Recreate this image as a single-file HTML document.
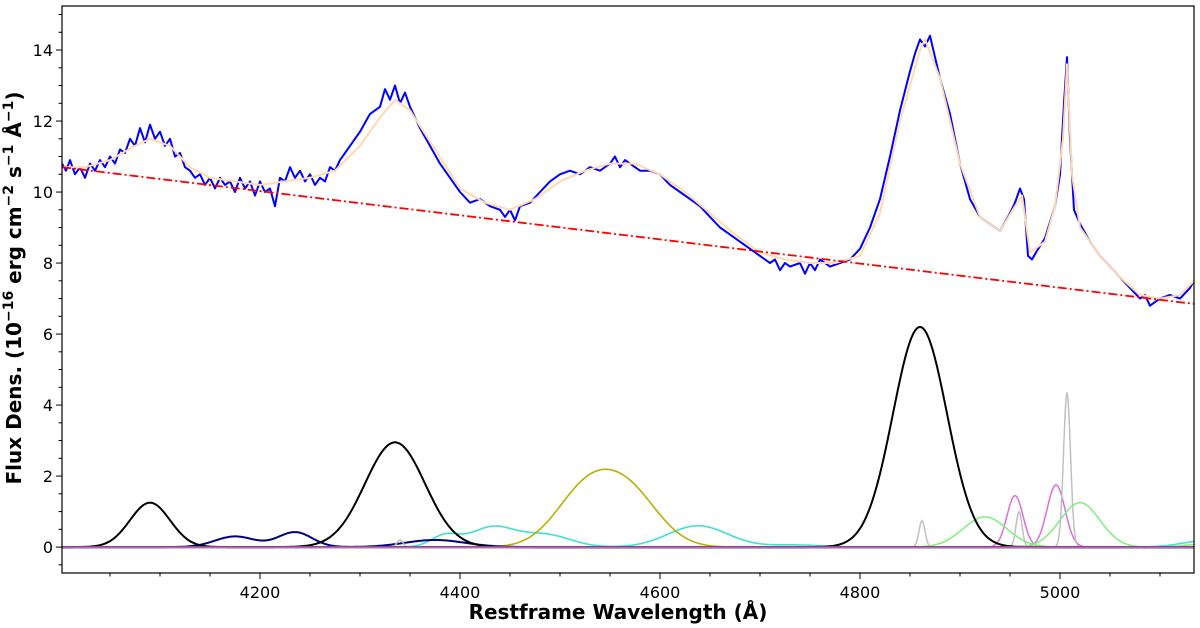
<!DOCTYPE html>
<html><head><meta charset="utf-8"><style>
body{margin:0;background:#fff}
svg{display:block;font-family:"DejaVu Sans","Liberation Sans",sans-serif}
</style></head><body>
<svg id="c" width="1200" height="628">
<rect x="0" y="0" width="1200" height="628" fill="#fff"/>
<g id="plot"></g>
<g id="axes"></g>
<text x="618" y="619" text-anchor="middle" font-size="20" font-weight="bold">Restframe Wavelength (Å)</text>
<text transform="translate(21,288) rotate(-90)" text-anchor="middle" font-size="20" font-weight="bold">Flux Dens. (10<tspan dy="-8" font-size="14">−16</tspan><tspan dy="8"> erg cm</tspan><tspan dy="-8" font-size="14">−2</tspan><tspan dy="8"> s</tspan><tspan dy="-8" font-size="14">−1</tspan><tspan dy="8"> Å</tspan><tspan dy="-8" font-size="14">−1</tspan><tspan dy="8">)</tspan></text>
</svg>
<script>
const xTicks=[4200,4400,4600,4800,5000];
const yTicks=[0,2,4,6,8,10,12,14];
const obsWave=[4002,4006,4010,4015,4020,4025,4030,4035,4040,4045,4050,4055,4060,4065,4070,4075,4080,4085,4090,4095,4100,4105,4110,4115,4120,4125,4130,4135,4140,4145,4150,4155,4160,4165,4170,4175,4180,4185,4190,4195,4200,4205,4210,4215,4220,4225,4230,4235,4240,4245,4250,4255,4260,4265,4270,4275,4280,4290,4300,4310,4320,4325,4330,4335,4340,4345,4350,4360,4370,4380,4390,4400,4410,4420,4430,4440,4445,4450,4455,4460,4470,4480,4490,4500,4510,4520,4530,4540,4550,4555,4560,4565,4570,4580,4590,4600,4610,4620,4630,4640,4650,4660,4670,4680,4690,4700,4705,4710,4715,4720,4725,4730,4740,4745,4750,4755,4760,4770,4780,4790,4800,4810,4820,4830,4840,4850,4855,4860,4865,4870,4880,4890,4900,4910,4920,4930,4940,4950,4955,4960,4964,4968,4972,4976,4985,4995,5000,5004,5007,5010,5014,5020,5030,5040,5050,5060,5070,5080,5085,5090,5095,5100,5110,5120,5130,5134];
const obsFlux=[10.8,10.6,10.9,10.5,10.7,10.4,10.8,10.6,10.9,10.7,11.0,10.8,11.2,11.1,11.5,11.3,11.8,11.4,11.9,11.5,11.7,11.3,11.5,11.0,11.1,10.7,10.6,10.4,10.5,10.2,10.4,10.1,10.4,10.2,10.3,10.0,10.4,10.1,10.3,9.9,10.3,10.0,10.1,9.6,10.4,10.3,10.7,10.4,10.6,10.3,10.5,10.2,10.4,10.3,10.7,10.6,10.9,11.3,11.7,12.2,12.4,12.9,12.6,13.0,12.5,12.8,12.4,11.8,11.3,10.8,10.4,10.0,9.7,9.8,9.6,9.5,9.3,9.5,9.2,9.6,9.7,10.0,10.3,10.5,10.6,10.5,10.7,10.6,10.8,11.0,10.7,10.9,10.8,10.6,10.6,10.5,10.2,10.0,9.8,9.6,9.3,9.0,8.8,8.6,8.4,8.2,8.1,8.0,8.1,7.8,8.0,7.9,8.0,7.7,8.0,7.8,8.1,7.9,8.0,8.1,8.4,9.0,9.8,11.0,12.3,13.4,13.9,14.3,14.1,14.4,13.2,12.2,10.8,9.8,9.3,9.1,8.9,9.4,9.7,10.1,9.8,8.2,8.1,8.3,8.7,9.6,10.5,12.5,13.8,11.5,9.5,9.1,8.6,8.2,7.9,7.6,7.3,7.0,7.1,6.8,6.9,7.0,7.1,7.0,7.3,7.5,7.6];
const modWave=[4002,4025,4050,4075,4090,4110,4130,4150,4175,4200,4225,4250,4275,4300,4320,4335,4350,4375,4400,4425,4450,4475,4500,4525,4550,4575,4600,4625,4650,4675,4700,4725,4750,4775,4800,4820,4840,4860,4865,4880,4900,4920,4940,4955,4962,4970,4985,4995,5003,5007,5012,5020,5040,5060,5080,5100,5120,5134];
const modFlux=[10.7,10.7,10.9,11.3,11.5,11.3,10.7,10.4,10.3,10.2,10.3,10.4,10.6,11.3,12.1,12.6,12.3,11.2,10.1,9.7,9.5,9.8,10.3,10.6,10.8,10.8,10.5,10.0,9.4,8.8,8.3,8.1,8.0,8.0,8.2,9.4,12.0,14.0,14.3,13.2,10.8,9.3,8.9,9.6,9.9,8.3,8.6,9.6,11.5,13.6,10.5,9.0,8.2,7.6,7.1,7.0,7.1,7.5];
const contWave=[4002,5134];
const contFlux=[10.7,6.85];
// gaussian components: center (Å), amplitude, sigma (Å)
const compCenter=[4090,4335,4860, 4175,4235,4375, 4385,4432,4485,4638,4735,5150, 4525,4570, 4340,4862,4959,5007, 4955,4996, 4925,5020,5150];
const compAmp=   [1.25,2.95,6.2,  0.3,0.42,0.2,   0.32,0.55,0.35,0.6,0.06,0.2,  1.5,1.4,  0.2,0.75,1.0,4.35,  1.45,1.75,  0.85,1.25,0.1];
const compSigma= [20,30,27,       20,17,30,       14,22,25,30,25,25,          30,30,    3,3,3,3.5,        8,9,        22,20,20];
const compColor=['#000','#000','#000','#000080','#000080','#000080','#40e0d0','#40e0d0','#40e0d0','#40e0d0','#40e0d0','#40e0d0','#b8b000','#b8b000','#c0c0c0','#c0c0c0','#c0c0c0','#c0c0c0','#da70d6','#da70d6','#7cf07c','#7cf07c','#7cf07c'];
const compName=['black','black','black','navy','navy','navy','cyan','cyan','cyan','cyan','cyan','cyan','olive','olive','gray','gray','gray','gray','pink','pink','green','green','green'];

const X0=62,X1=1194,Y0=6,Y1=573,WMIN=4002,WMAX=5134,FMIN=-0.73,FMAX=15.24;
const sx=w=>X0+(w-WMIN)/(WMAX-WMIN)*(X1-X0);
const sy=f=>Y1-(f-FMIN)/(FMAX-FMIN)*(Y1-Y0);
const NS='http://www.w3.org/2000/svg';
const plot=document.getElementById('plot'),axes=document.getElementById('axes');
function mk(tag,attrs,parent){const e=document.createElementNS(NS,tag);for(const k in attrs)e.setAttribute(k,attrs[k]);parent.appendChild(e);return e;}
const cp=mk('clipPath',{id:'clip'},document.getElementById('c'));
mk('rect',{x:X0,y:Y0,width:X1-X0,height:Y1-Y0},cp);
plot.setAttribute('clip-path','url(#clip)');
function pathOf(ws,fs){return ws.map((w,i)=>(i?'L':'M')+sx(w).toFixed(1)+' '+sy(fs[i]).toFixed(1)).join('');}
const groups={};
compName.forEach((n,i)=>{(groups[n]=groups[n]||[]).push(i);});
const grid=[];for(let w=WMIN;w<=WMAX;w+=1)grid.push(w);
const order=['pink','green','cyan','olive','navy','gray','black'];
order.forEach(n=>{
  const idx=groups[n];
  if(n==='gray'||n==='pink'||n==='green'||n==='black'){
    idx.forEach(i=>{
      const fs=grid.map(w=>compAmp[i]*Math.exp(-0.5*Math.pow((w-compCenter[i])/compSigma[i],2)));
      const p=mk('path',{d:pathOf(grid,fs),fill:'none',stroke:compColor[i],'stroke-width':n==='black'?2:1.5},plot);
      
      
    });
  } else {
    const fs=grid.map(w=>idx.reduce((s,i)=>s+compAmp[i]*Math.exp(-0.5*Math.pow((w-compCenter[i])/compSigma[i],2)),0));
    const p=mk('path',{d:pathOf(grid,fs),fill:'none',stroke:compColor[idx[0]],'stroke-width':n==='navy'?2:1.6},plot);
    
    
  }
});
const base=mk('path',{d:pathOf(contWave,[0,0]),stroke:'#da70d6','stroke-width':1.5,fill:'none'},plot);


const obs=mk('path',{d:pathOf(obsWave,obsFlux),fill:'none',stroke:'#0000ff','stroke-width':2,'stroke-linejoin':'round'},plot);


const mod=mk('path',{d:pathOf(modWave,modFlux),fill:'none',stroke:'#ffdab0','stroke-width':2,'stroke-linejoin':'round'},plot);


const cont=mk('path',{d:pathOf(contWave,contFlux),fill:'none',stroke:'#ff0000','stroke-width':1.8,'stroke-dasharray':'9 3 2 3'},plot);


const fr=mk('rect',{x:X0,y:Y0,width:X1-X0,height:Y1-Y0,fill:'none',stroke:'#000','stroke-width':1.2},axes);


for(let w=4050;w<=WMAX;w+=50){
  const major=xTicks.includes(w);
  mk('line',{x1:sx(w),x2:sx(w),y1:Y1,y2:Y1+(major?6:3.5),stroke:'#000','stroke-width':1},axes);
}
xTicks.forEach(w=>{
  const t=mk('text',{x:sx(w),y:Y1+25,'text-anchor':'middle','font-size':16},axes);
  t.textContent=w;
  
  
});
for(let f=-0.5;f<=15;f+=0.5){
  const major=yTicks.includes(f);
  mk('line',{x1:X0,x2:X0-(major?6:3.5),y1:sy(f),y2:sy(f),stroke:'#000','stroke-width':1},axes);
}
yTicks.forEach(f=>{
  const t=mk('text',{x:X0-9,y:sy(f)+6,'text-anchor':'end','font-size':16},axes);
  t.textContent=f;
  
  
});
</script>
</body></html>
